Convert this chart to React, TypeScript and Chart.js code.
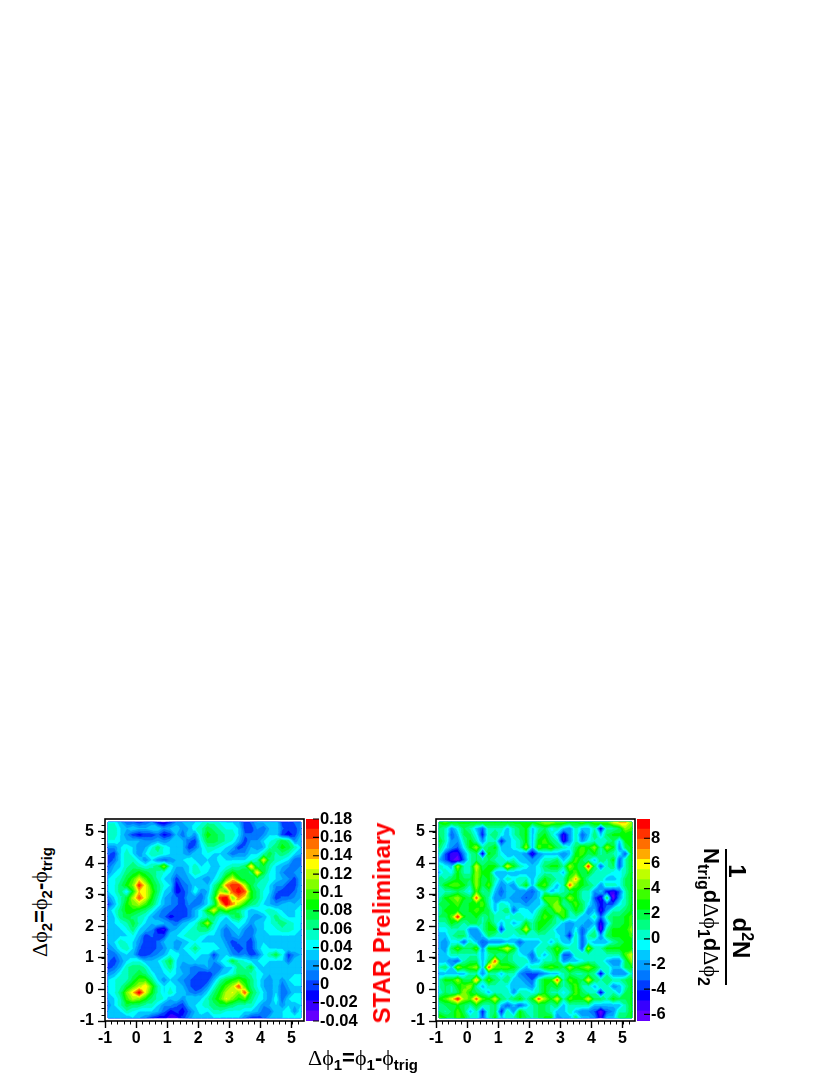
import React, { useEffect, useRef } from "react";
import { Chart, registerables, ScatterController } from "chart.js";

Chart.register(...registerables);

// Estimated value at each bin centre, top row (y = 5.3) first; left panel in units of 0.01.
const leftRows: number[][] = [
  [4,4,2,0,0,-1,0,1,-2,-3,-1,1,2,3,3,4,5,5,4,3,3,2,-1,0,2,2,3,3,-1,-1,0,1],
  [5,5,3,2,3,2,2,3,3,1,2,3,1,2,4,5,7,6,5,4,4,3,-1,-1,1,0,2,3,0,-1,-1,1],
  [5,5,3,1,-1,-2,-1,-1,0,-2,-1,2,0,3,1,5,8,7,6,5,5,3,0,0,0,1,3,3,-1,-2,-1,2],
  [4,4,3,2,2,2,1,1,2,1,2,3,2,0,-1,4,7,7,6,5,4,2,-1,1,1,3,4,5,7,6,1,3],
  [1,1,3,4,3,1,2,4,6,4,3,3,2,-1,0,3,5,5,4,3,2,-1,0,2,1,2,5,6,8,7,5,3],
  [0,-1,3,5,3,1,3,5,5,4,3,3,2,1,3,3,4,3,3,2,0,1,1,3,3,5,7,5,6,5,3,2],
  [-1,0,3,5,5,3,1,3,1,0,1,2,3,4,3,2,3,2,4,3,3,3,3,4,5,12,6,5,4,3,0,0],
  [0,2,3,5,6,5,4,5,6,10,4,2,2,3,5,3,4,2,3,4,5,5,6,13,6,7,5,3,2,1,0,1],
  [1,3,4,6,7,8,7,6,5,4,3,1,1,3,5,4,3,2,4,6,8,7,7,6,13,7,4,3,1,0,1,2],
  [3,4,5,7,9,12,9,7,5,3,2,-1,1,2,3,2,1,3,5,9,12,8,7,7,6,5,4,3,2,1,-1,2],
  [3,4,6,8,10,16,12,8,6,4,3,-2,0,1,3,3,2,5,8,14,16,16,11,7,5,5,3,1,1,-1,-1,2],
  [3,4,6,3,8,13,12,9,6,3,2,-2,-1,1,4,1,2,6,11,9,15,17,15,8,6,4,3,0,-1,-1,0,2],
  [1,3,5,7,11,15,12,8,5,2,1,0,-1,2,1,0,3,7,16,17,10,14,12,8,6,4,2,-1,0,0,1,2],
  [-1,2,5,8,10,11,9,7,4,2,1,0,-1,1,0,1,3,6,12,17,14,11,8,6,5,3,2,1,2,3,2,3],
  [2,4,6,8,8,7,6,4,2,0,0,-1,-1,0,2,4,8,12,7,9,7,6,4,2,3,4,5,4,3,2,3,4],
  [2,3,6,7,6,5,4,2,1,0,-2,-1,-1,0,2,4,5,6,4,3,6,7,4,2,1,2,4,6,4,3,3,4],
  [3,3,4,5,7,5,3,2,3,2,1,0,2,3,4,7,11,5,3,2,3,4,3,1,3,3,4,5,6,5,4,3],
  [3,3,3,4,6,3,2,1,-2,-3,1,2,3,4,5,6,6,4,2,0,2,3,1,0,2,3,4,4,5,5,4,3],
  [3,3,3,3,4,2,-1,0,-1,-1,3,3,4,5,5,4,3,3,2,0,1,2,0,0,3,3,3,3,3,3,3,3],
  [2,3,5,4,3,1,-1,-1,0,2,3,1,2,3,4,3,3,3,3,1,-1,0,0,-1,2,3,3,2,3,3,3,3],
  [1,2,4,5,3,0,-1,-1,0,1,3,1,3,4,6,4,4,4,3,2,0,-1,0,-1,2,4,3,3,3,3,3,3],
  [0,0,2,3,2,-1,-1,0,1,2,4,4,2,3,4,3,3,-1,2,3,1,0,1,-1,0,3,5,7,4,-1,1,2],
  [0,-1,1,3,4,4,2,2,3,5,7,3,2,3,3,3,2,1,3,4,7,5,4,3,3,4,3,3,3,0,3,3],
  [-1,0,2,5,6,6,5,2,2,4,6,3,1,1,0,1,2,0,0,3,3,6,5,7,3,3,3,3,3,3,3,3],
  [1,2,4,5,6,7,6,4,2,3,4,3,2,1,0,-1,-1,0,2,3,4,6,6,5,4,3,2,3,3,3,3,3],
  [3,4,5,5,7,9,9,6,3,1,3,2,1,0,-1,-1,-1,2,5,7,8,9,8,6,4,2,1,3,1,3,4,4],
  [3,4,5,7,9,11,13,9,5,3,4,3,2,0,-1,-1,1,4,7,9,11,15,9,6,4,2,1,3,0,2,3,3],
  [3,4,6,10,13,17,12,8,5,3,5,3,3,1,0,1,3,6,8,11,12,10,15,7,5,3,1,3,0,1,3,3],
  [2,3,5,9,11,10,8,6,5,4,2,3,1,3,3,3,5,7,9,12,10,8,9,6,4,3,1,4,0,3,4,4],
  [1,3,5,7,6,6,5,5,3,1,1,0,-1,2,3,4,5,6,7,7,6,5,5,5,3,1,2,3,1,3,2,3],
  [2,3,3,5,4,3,3,3,2,0,-2,-1,-2,0,2,4,3,5,5,4,4,4,3,3,2,0,0,3,3,4,1,4],
  [3,3,2,2,3,2,1,-1,-2,-2,-3,-3,-1,1,3,2,2,3,3,3,3,3,1,-1,-1,0,2,3,3,4,4,4],
];

const rightRows: number[][] = [
  [3,4,3,3,3,3,3,3,3,3,3,3,3,3,3,3,4,5,5,4,4,3,3,4,3,4,4,4,6,7,7,5],
  [2,1,-2,0,2,1,-1,-3,1,1,1,-1,1,2,3,-1,1,2,0,1,-1,-2,1,-1,-1,1,-5,1,1,2,5,4],
  [2,1,-3,-1,2,2,0,-4,1,2,0,-1,1,2,3,-1,2,3,1,-1,-5,-2,1,-3,-1,2,-1,2,3,3,3,3],
  [3,1,-2,-2,1,3,1,-2,1,1,-4,-1,0,1,3,-1,3,4,2,1,-5,-2,1,-2,0,1,1,1,2,-1,3,3],
  [2,0,-2,-3,0,3,5,1,2,3,-1,-1,0,1,5,-1,4,3,4,2,1,0,2,4,3,5,1,5,3,-2,2,3],
  [1,-3,-5,-5,-2,1,2,-5,3,2,0,-1,-1,-1,-2,-5,-2,-1,-1,-1,-2,-1,3,4,2,3,1,2,1,0,-3,3],
  [-1,-3,-5,-6,-3,1,2,1,2,1,1,0,1,-1,-1,-2,-1,1,1,2,-1,1,4,2,1,-1,2,1,3,-3,1,3],
  [1,0,-1,5,1,1,6,2,3,3,1,6,3,1,0,-1,0,2,3,3,1,5,3,2,9,2,-3,1,2,-3,1,3],
  [-1,1,0,3,1,1,5,3,3,-1,-1,-1,-1,-1,-1,-1,0,1,1,1,-1,3,4,2,3,1,1,1,0,0,1,3],
  [2,1,2,3,2,2,5,2,3,1,-1,1,0,1,1,-1,1,3,2,1,1,4,7,3,1,1,1,-1,-1,0,2,3],
  [1,3,4,4,3,1,5,2,4,0,-2,-1,-2,1,3,-1,3,4,1,-1,1,8,4,3,2,1,-2,1,1,0,2,3],
  [1,1,1,2,1,0,4,1,2,-1,-3,-1,-1,-2,-2,-3,-1,1,-1,0,1,2,3,1,1,-2,-1,-4,-5,-3,1,3],
  [1,3,4,5,3,2,8,3,1,-2,-2,-1,-2,-2,-3,-2,-1,4,4,4,2,5,3,1,1,-3,-5,2,-6,-2,1,3],
  [2,2,3,4,2,3,3,4,1,-1,1,0,-1,-1,-2,-1,-1,1,4,5,1,2,4,2,0,-2,-4,-3,-3,0,1,3],
  [1,3,3,3,2,3,4,3,2,-1,1,2,-3,0,0,-1,1,3,2,5,4,1,3,2,-2,-1,-5,-2,1,1,2,3],
  [2,2,4,9,3,2,3,1,2,1,1,0,1,1,0,0,2,4,3,1,4,1,1,-1,-1,1,-3,1,2,2,3,4],
  [1,1,3,2,1,2,2,1,3,1,-1,1,-1,0,3,1,3,3,2,1,-1,-2,-1,-1,-2,-1,-5,-1,2,2,3,4],
  [0,0,1,1,1,-2,-2,1,3,3,-4,1,1,2,6,1,3,2,1,-1,-1,-2,0,-3,-1,1,-6,1,3,3,3,5],
  [-1,-1,1,2,2,-1,-2,-1,2,1,1,1,0,1,1,1,1,1,1,0,-1,-4,1,-3,1,2,-2,2,3,3,3,4],
  [-1,-2,0,0,-3,1,-1,-3,-2,-2,-2,-1,-1,-3,-1,-1,-1,1,-1,1,-1,-1,1,-3,0,-1,-1,-1,1,2,3,3],
  [-1,-2,2,4,2,2,4,-2,3,3,4,6,3,-1,-1,-1,1,1,2,4,2,1,1,-3,5,1,1,3,3,3,3,3],
  [-1,-1,1,1,1,1,1,-1,1,2,1,2,1,0,-1,-3,1,-1,1,3,-3,-3,1,1,1,1,1,1,1,1,4,6],
  [-1,-1,-2,-3,1,2,2,-1,2,8,2,2,1,1,1,-2,-1,1,1,2,-2,-1,-1,0,1,1,1,-1,-2,-2,2,5],
  [1,2,-1,5,3,4,5,-1,8,4,4,4,3,1,-1,1,1,3,4,3,2,5,3,4,5,3,1,1,-1,-1,2,3],
  [-1,-1,-1,-1,-1,1,1,-2,1,1,-1,1,1,-2,-3,-3,-3,-2,-1,-1,1,2,1,1,2,1,-5,1,-2,-2,-2,1],
  [1,3,3,5,2,2,7,1,4,2,1,2,-1,-1,-2,-3,1,3,3,8,1,4,3,2,6,2,1,2,1,1,2,3],
  [1,2,1,3,4,5,1,-1,1,1,1,0,-1,-1,-1,-2,1,3,2,3,1,2,4,1,1,-1,1,1,-2,-1,1,3],
  [0,2,1,2,5,3,2,1,-1,1,1,1,-2,1,1,0,1,3,1,1,0,1,4,2,1,1,-5,1,1,-1,2,3],
  [3,4,6,9,5,4,8,4,3,6,2,1,2,3,1,3,8,5,3,6,1,4,3,3,6,2,2,1,3,2,2,3],
  [1,2,2,3,2,1,3,1,1,2,-1,-3,-1,-3,-1,1,2,2,1,2,-1,1,1,1,1,-1,-1,-1,-1,-1,1,3],
  [2,1,2,4,2,-1,1,-4,1,2,-4,1,-2,3,1,1,2,2,1,-1,-1,1,-1,-2,-2,-3,-6,-3,-2,1,1,3],
  [4,3,2,4,3,1,1,-3,1,3,-1,1,1,3,2,1,2,3,3,-2,-1,-1,2,-1,-1,-2,-5,-1,-1,2,2,3],
];

const leftUnit = 0.01;
const leftBaseline = 0.006;
const rightUnit = 1;
const rightBaseline = -0.5;

const binCentresX = [-0.9,-0.7,-0.5,-0.3,-0.1,0.1,0.3,0.5,0.7,0.9,1.1,1.3,1.5,1.7,1.9,2.1,2.3,2.5,2.7,2.9,3.1,3.3,3.5,3.7,3.9,4.1,4.3,4.5,4.7,4.9,5.1,5.3];
const binCentresY = [...binCentresX].reverse();

const axisTicks = [-1, 0, 1, 2, 3, 4, 5];
const minorStep = 0.2;
const axisMin = -1;
const axisMax = 5.4;

const leftBarTicks = [-0.04,-0.02,0,0.02,0.04,0.06,0.08,0.1,0.12,0.14,0.16,0.18];
const rightBarTicks = [-6,-4,-2,0,2,4,6,8];
const leftRange = [-0.04, 0.18];
const rightRange = [-6.53, 9.53];

const palette = [
  "rgb(100,0,255)","rgb(55,0,255)","rgb(0,0,255)","rgb(0,60,255)","rgb(0,120,255)",
  "rgb(0,160,255)","rgb(0,200,255)","rgb(0,255,255)","rgb(0,255,200)","rgb(0,255,130)",
  "rgb(0,255,70)","rgb(0,255,0)","rgb(60,255,0)","rgb(130,255,0)","rgb(190,255,0)",
  "rgb(255,255,0)","rgb(255,170,0)","rgb(255,110,0)","rgb(255,50,0)","rgb(255,0,0)",
];

const FONT = "'Liberation Sans', Arial, sans-serif";
const SYM = "'Liberation Serif', serif";

type Node = { x: number; y: number; v: number };

function clipAbove(poly: Node[], lo: number): Node[] {
  const out: Node[] = [];
  for (let i = 0; i < poly.length; i++) {
    const a = poly[i];
    const b = poly[(i + 1) % poly.length];
    if (a.v >= lo) out.push(a);
    if (a.v >= lo !== b.v >= lo) {
      const t = (lo - a.v) / (b.v - a.v);
      out.push({ x: a.x + t * (b.x - a.x), y: a.y + t * (b.y - a.y), v: lo });
    }
  }
  return out;
}

class ContourController extends ScatterController {
  static id = "contour";
  static defaults = { ...ScatterController.defaults };
  draw() {
    const ctx = this.chart.ctx;
    const ds: any = this.getDataset();
    const els: any[] = this.getMeta().data as any[];
    const n = binCentresX.length;
    const [lo, hi] = ds.range as number[];
    const w = (hi - lo) / palette.length;
    const node = (r: number, c: number): Node => {
      const k = r * n + c;
      return { x: els[k].x, y: els[k].y, v: ds.data[k].v };
    };
    const tris: Node[][] = [];
    for (let r = 0; r < n - 1; r++) {
      for (let c = 0; c < n - 1; c++) {
        const q = [node(r, c), node(r, c + 1), node(r + 1, c + 1), node(r + 1, c)];
        const sorted = q.map((p) => p.v).sort((a, b) => a - b);
        const m: Node = {
          x: (q[0].x + q[2].x) / 2,
          y: (q[0].y + q[2].y) / 2,
          v: (sorted[1] + sorted[2]) / 2,
        };
        for (let e = 0; e < 4; e++) tris.push([q[e], q[(e + 1) % 4], m]);
      }
    }
    ctx.save();
    palette.forEach((color, k) => {
      const level = k === 0 ? -Infinity : lo + k * w;
      ctx.beginPath();
      for (const t of tris) {
        const p = clipAbove(t, level);
        if (p.length < 3) continue;
        ctx.moveTo(p[0].x, p[0].y);
        for (let i = 1; i < p.length; i++) ctx.lineTo(p[i].x, p[i].y);
        ctx.closePath();
      }
      ctx.fillStyle = color;
      ctx.strokeStyle = color;
      ctx.lineWidth = 0.4;
      ctx.fill();
      ctx.stroke();
    });
    ctx.restore();
  }
}
Chart.register(ContourController);

const framePlugin = {
  id: "frame",
  afterDraw(chart: any) {
    const { ctx, chartArea: a, scales } = chart;
    ctx.save();
    ctx.strokeStyle = "#000";
    ctx.lineWidth = 1;
    ctx.beginPath();
    for (let v = axisMin; v < axisMax - 0.01; v += minorStep) {
      const px = Math.round(scales.x.getPixelForValue(v)) + 0.5;
      const py = Math.round(scales.y.getPixelForValue(v)) + 0.5;
      ctx.moveTo(px, a.bottom);
      ctx.lineTo(px, a.bottom + 3.5);
      ctx.moveTo(a.left, py);
      ctx.lineTo(a.left - 3.5, py);
    }
    ctx.stroke();
    ctx.lineWidth = 1.6;
    ctx.strokeRect(a.left, a.top, a.right - a.left, a.bottom - a.top);
    ctx.restore();
  },
};

const barTickPlugin = {
  id: "barTicks",
  afterDatasetsDraw(chart: any) {
    const { ctx, chartArea: a, scales } = chart;
    ctx.save();
    ctx.strokeStyle = "#000";
    ctx.lineWidth = 1.2;
    ctx.beginPath();
    for (const t of scales.y.ticks) {
      const py = scales.y.getPixelForValue(t.value);
      ctx.moveTo(a.right - 6, py);
      ctx.lineTo(a.right, py);
    }
    ctx.stroke();
    ctx.restore();
  },
};

function Panel({ rows, unit, baseline, range, left }: { rows: number[][]; unit: number; baseline: number; range: number[]; left: number }) {
  const ref = useRef<HTMLCanvasElement>(null);
  useEffect(() => {
    const data: any[] = [];
    rows.forEach((row, r) => {
      row.forEach((v, c) => data.push({ x: binCentresX[c], y: binCentresY[r], v: v * unit + baseline }));
    });
    const common = {
      type: "linear",
      min: axisMin,
      max: axisMax,
      afterBuildTicks: (s: any) => {
        s.ticks = axisTicks.map((value) => ({ value }));
      },
      border: { display: false },
      grid: { drawOnChartArea: false, drawTicks: true, tickLength: 7, tickColor: "#000", tickWidth: 1.4 },
    };
    const tickFont = { family: FONT, weight: "bold", size: 16 };
    const chart = new Chart(ref.current as HTMLCanvasElement, {
      type: "contour" as any,
      data: { datasets: [{ data, range } as any] },
      plugins: [framePlugin],
      options: {
        animation: false,
        responsive: false,
        events: [],
        layout: { padding: { left: 0, right: 6, top: 19, bottom: 0 } },
        plugins: { legend: { display: false }, tooltip: { enabled: false }, title: { display: false } },
        scales: {
          x: {
            ...common,
            position: "bottom",
            afterFit: (s: any) => {
              s.height = 34;
            },
            ticks: { color: "#000", font: tickFont, padding: 1, maxRotation: 0, autoSkip: false },
          },
          y: {
            ...common,
            position: "left",
            afterFit: (s: any) => {
              s.width = 45;
            },
            ticks: { color: "#000", font: tickFont, padding: 4, autoSkip: false },
          },
        },
      } as any,
    });
    return () => chart.destroy();
  }, []);
  return <canvas ref={ref} width={250} height={255} style={{ position: "absolute", left, top: 800 }} />;
}

function ColourBar({ range, ticks, left }: { range: number[]; ticks: number[]; left: number }) {
  const ref = useRef<HTMLCanvasElement>(null);
  useEffect(() => {
    const w = (range[1] - range[0]) / palette.length;
    const chart = new Chart(ref.current as HTMLCanvasElement, {
      type: "bar",
      data: {
        labels: [""],
        datasets: palette.map((color, k) => ({
          data: [[range[0] + k * w, range[0] + (k + 1) * w]] as any,
          backgroundColor: color,
          borderWidth: 0,
          grouped: false,
          barPercentage: 1,
          categoryPercentage: 1,
        })),
      },
      plugins: [barTickPlugin],
      options: {
        animation: false,
        responsive: false,
        events: [],
        layout: { padding: { left: 6, right: 0, top: 19, bottom: 19 } },
        plugins: { legend: { display: false }, tooltip: { enabled: false } },
        scales: {
          x: { display: false },
          y: {
            type: "linear",
            position: "right",
            min: range[0],
            max: range[1],
            afterBuildTicks: (s: any) => {
              s.ticks = ticks.map((value) => ({ value }));
            },
            afterFit: (s: any) => {
              s.width = 61;
            },
            border: { display: false },
            grid: { display: false, drawTicks: false },
            ticks: {
              color: "#000",
              font: { family: FONT, weight: "bold", size: 16.5 },
              padding: 1,
              autoSkip: false,
              callback: (v: any) => String(+Number(v).toFixed(2)),
            },
          },
        },
      } as any,
    });
    return () => chart.destroy();
  }, []);
  return <canvas ref={ref} width={80} height={240} style={{ position: "absolute", left, top: 800 }} />;
}

const Sym = ({ children }: { children: React.ReactNode }) => (
  <span style={{ fontFamily: SYM, fontWeight: "normal" }}>{children}</span>
);
const Sub = ({ children, size }: { children: React.ReactNode; size: number }) => (
  <span style={{ fontSize: size, position: "relative", top: size * 0.35 }}>{children}</span>
);

function Text({ cx, cy, rot = 0, size, color = "#000", children }: any) {
  return (
    <div
      style={{
        position: "absolute",
        left: cx,
        top: cy,
        transform: `translate(-50%,-50%) rotate(${rot}deg)`,
        fontFamily: FONT,
        fontWeight: "bold",
        fontSize: size,
        color,
        whiteSpace: "nowrap",
        lineHeight: 1,
      }}
    >
      {children}
    </div>
  );
}

export default function App() {
  return (
    <div style={{ position: "absolute", left: 0, top: 0, width: 830, height: 1075, background: "#fff", overflow: "hidden" }}>
      <Panel rows={leftRows} unit={leftUnit} baseline={leftBaseline} range={leftRange} left={60} />
      <ColourBar range={leftRange} ticks={leftBarTicks} left={300} />
      <Panel rows={rightRows} unit={rightUnit} baseline={rightBaseline} range={rightRange} left={391} />
      <ColourBar range={rightRange} ticks={rightBarTicks} left={631} />
      <Text cx={40} cy={902} rot={-90} size={22}>
        <Sym>Δϕ</Sym><Sub size={15}>2</Sub>=<Sym>ϕ</Sym><Sub size={15}>2</Sub>-<Sym>ϕ</Sym><Sub size={15}>trig</Sub>
      </Text>
      <Text cx={363} cy={1058} size={22}>
        <Sym>Δϕ</Sym><Sub size={15}>1</Sub>=<Sym>ϕ</Sym><Sub size={15}>1</Sub>-<Sym>ϕ</Sym><Sub size={15}>trig</Sub>
      </Text>
      <Text cx={382} cy={923} rot={-90} size={24} color="#ff0000">STAR Preliminary</Text>
      <Text cx={711} cy={917} rot={90} size={22}>
        N<Sub size={16}>trig</Sub>d<Sym>Δϕ</Sym><Sub size={16}>1</Sub>d<Sym>Δϕ</Sym><Sub size={16}>2</Sub>
      </Text>
      <div style={{ position: "absolute", left: 725, top: 849, width: 2, height: 136, background: "#000" }} />
      <Text cx={737} cy={871} rot={90} size={24}>1</Text>
      <Text cx={741} cy={938} rot={90} size={24}>
        d<span style={{ fontSize: 16, position: "relative", top: -9 }}>2</span>N
      </Text>
    </div>
  );
}
